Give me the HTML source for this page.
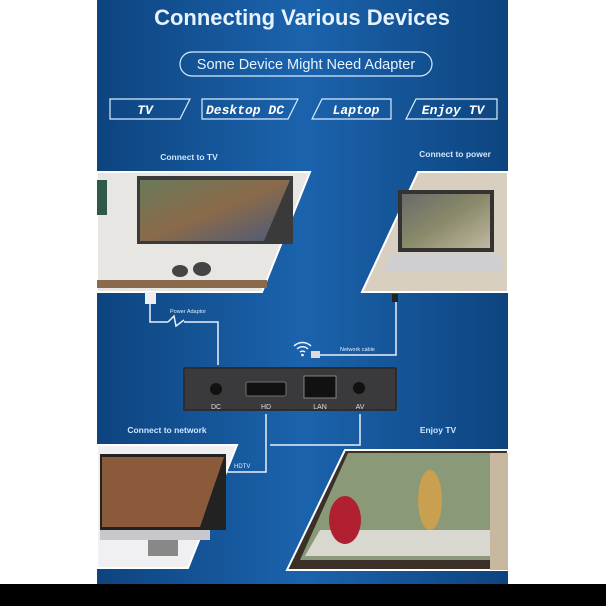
<!DOCTYPE html>
<html><head><meta charset="utf-8"><style>
html,body{margin:0;padding:0;background:#fff;width:606px;height:606px;overflow:hidden}
svg{display:block}
text{font-family:"Liberation Sans",sans-serif}
text.mono{font-family:"Liberation Mono",monospace}
</style></head><body>
<svg width="606" height="606" viewBox="0 0 606 606">
<defs>
<linearGradient id="bg" x1="0" x2="1" y1="0" y2="0">
<stop offset="0" stop-color="#0d447f"/><stop offset="0.5" stop-color="#1b63ad"/><stop offset="1" stop-color="#0d447f"/>
</linearGradient>
<linearGradient id="scr" x1="0" x2="1" y1="0" y2="1">
<stop offset="0" stop-color="#6a7a5a"/><stop offset="0.5" stop-color="#8a6a4a"/><stop offset="1" stop-color="#4a5a7a"/>
</linearGradient>
<linearGradient id="scr2" x1="0" x2="1" y1="0" y2="1">
<stop offset="0" stop-color="#6a6a6a"/><stop offset="0.5" stop-color="#8a8a6a"/><stop offset="1" stop-color="#c0b8a0"/>
</linearGradient>
</defs>
<rect x="97" y="0" width="411" height="584" fill="url(#bg)"/>
<rect x="0" y="584" width="606" height="22" fill="#000"/>
<text x="302" y="25" text-anchor="middle" font-size="22" font-weight="bold" fill="#e6f3ff">Connecting Various Devices</text>
<rect x="180" y="52" width="252" height="24" rx="12" fill="none" stroke="#d8ecff" stroke-width="1.2"/>
<text x="306" y="69" text-anchor="middle" font-size="14.5" fill="#e6f3ff">Some Device Might Need Adapter</text>
<g fill="none" stroke="#d8ecff" stroke-width="1.2">
<polygon points="110,99 190,99 180,119 110,119"/>
<polygon points="202,99 298,99 288,119 202,119"/>
<polygon points="322,99 391,99 391,119 312,119"/>
<polygon points="416,99 497,99 497,119 406,119"/>
</g>
<g font-style="italic" font-weight="bold" font-size="13" fill="#fff">
<text class="mono" x="145" y="114" text-anchor="middle">TV</text>
<text class="mono" x="245" y="114" text-anchor="middle">Desktop DC</text>
<text class="mono" x="356" y="114" text-anchor="middle">Laptop</text>
<text class="mono" x="453" y="114" text-anchor="middle">Enjoy TV</text>
</g>
<text x="189" y="160" text-anchor="middle" font-size="8.5" font-weight="bold" fill="#cfe6ff">Connect to TV</text>
<text x="455" y="157" text-anchor="middle" font-size="8.5" font-weight="bold" fill="#cfe6ff">Connect to power</text>
<polygon points="97,172 310,172 262,292 97,292" fill="#e8e6e2" stroke="#fff" stroke-width="2"/>
<rect x="137" y="176" width="156" height="68" fill="#3a3a3a"/>
<polygon points="140,180 290,180 264,241 140,241" fill="url(#scr)"/>
<rect x="97" y="280" width="170" height="8" fill="#8a6a4a"/>
<rect x="97" y="180" width="10" height="35" fill="#2f5a4a"/>
<ellipse cx="180" cy="271" rx="8" ry="6" fill="#444"/><ellipse cx="202" cy="269" rx="9" ry="7" fill="#444"/>
<polygon points="418,172 508,172 508,292 362,292" fill="#d8cfc0" stroke="#fff" stroke-width="2"/>
<rect x="398" y="190" width="96" height="62" fill="#333"/>
<rect x="402" y="194" width="88" height="54" fill="url(#scr2)"/>
<polygon points="390,254 500,254 504,272 384,272" fill="#cfcfd2"/>
<g fill="none" stroke="#e8f0f8" stroke-width="1.5">
<polyline points="150,300 150,322 168,322"/>
<polyline points="184,322 218,322 218,365"/>
<polyline points="396,300 396,355 318,355"/>
<polyline points="266,414 266,472 225,472"/>
<polyline points="360,414 360,445 270,445"/>
<polyline points="168,322 174,316 176,326 184,320"/>
<path d="M294,346 a12,12 0 0 1 17,0 M297,349 a8,8 0 0 1 11,0 M300,352 a4,4 0 0 1 5,0"/>
</g>
<circle cx="302.5" cy="355" r="1.3" fill="#fff"/>
<rect x="145" y="292" width="11" height="12" fill="#eee"/>
<rect x="392" y="294" width="6" height="8" fill="#222"/>
<rect x="311" y="351" width="9" height="7" fill="#ddd"/>
<text x="170" y="313" font-size="5.5" fill="#e0eeff">Power Adaptor</text>
<text x="340" y="351" font-size="5.5" fill="#e0eeff">Network cable</text>
<text x="234" y="468" font-size="6" fill="#e0eeff">HDTV</text>
<rect x="183" y="367" width="214" height="44" rx="2" fill="#2d2d2f"/>
<rect x="185" y="369" width="210" height="40" fill="#3a3a3c"/>
<circle cx="216" cy="389" r="6" fill="#111"/>
<rect x="246" y="382" width="40" height="14" rx="2" fill="#111" stroke="#888" stroke-width="0.8"/>
<rect x="304" y="376" width="32" height="22" fill="#111" stroke="#999" stroke-width="0.8"/>
<circle cx="359" cy="388" r="6" fill="#111"/>
<g font-size="7" fill="#ddd" text-anchor="middle">
<text x="216" y="409">DC</text><text x="266" y="409">HD</text><text x="320" y="409">LAN</text><text x="360" y="409">AV</text>
</g>
<text x="167" y="433" text-anchor="middle" font-size="8.5" font-weight="bold" fill="#cfe6ff">Connect to network</text>
<text x="438" y="433" text-anchor="middle" font-size="8.5" font-weight="bold" fill="#cfe6ff">Enjoy TV</text>
<polygon points="97,445 237,445 188,568 97,568" fill="#f0f0f2" stroke="#fff" stroke-width="2"/>
<rect x="100" y="454" width="126" height="76" fill="#222"/>
<polygon points="102,457 224,457 200,527 102,527" fill="#8a5a3a"/>
<rect x="100" y="530" width="110" height="10" fill="#c8c8cc"/>
<rect x="148" y="540" width="30" height="16" fill="#888"/>
<polygon points="345,450 508,450 508,570 287,570" fill="#3a3028" stroke="#fff" stroke-width="2"/>
<polygon points="348,453 490,453 490,560 300,560" fill="#8a9a78"/>
<polygon points="320,530 490,530 490,556 305,556" fill="#d8d8d0"/>
<ellipse cx="345" cy="520" rx="16" ry="24" fill="#b02030"/>
<ellipse cx="430" cy="500" rx="12" ry="30" fill="#c8a050"/>
<rect x="490" y="453" width="18" height="117" fill="#c8b8a0"/>
</svg>
</body></html>
